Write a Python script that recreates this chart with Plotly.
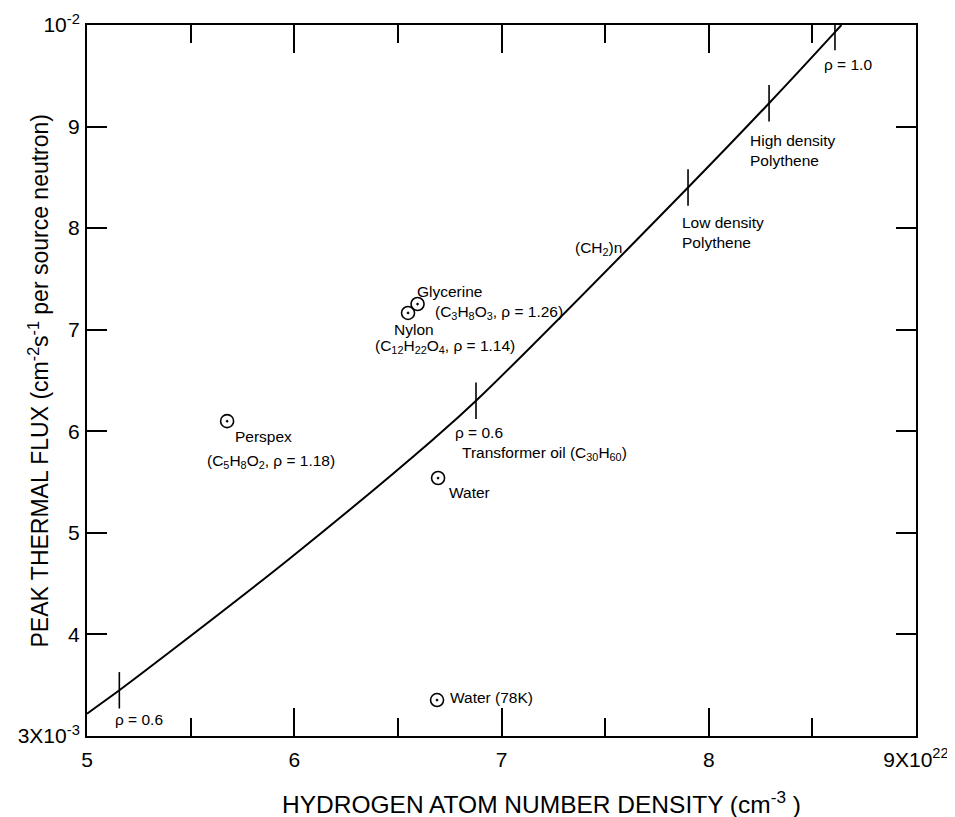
import plotly.graph_objects as go

# ---- data ----
# (CH2)n curve: hydrogen density (x 1e22 cm^-3) vs peak thermal flux (x 1e-3)
curve_x = [5.0, 5.156, 5.35, 5.98, 6.67, 6.877, 7.90, 8.291, 8.609, 8.64]
curve_y = [3.22, 3.45, 3.75, 4.75, 5.92, 6.30, 8.40, 9.23, 9.93, 10.0]

# density marks on the curve
rho_x = [5.156, 6.877, 7.90, 8.291, 8.609]
rho_y = [3.45, 6.30, 8.40, 9.23, 9.93]

# individual materials
sample_names = ["Perspex", "Nylon", "Glycerine", "Water", "Water (78K)"]
sample_x = [5.676, 6.549, 6.595, 6.694, 6.689]
sample_y = [6.10, 7.165, 7.253, 5.54, 3.354]

# axis ticks
x_tickvals = [5, 6, 7, 8, 9]
x_ticktext = ["5", "6", "7", "8", "9X10<sup>22</sup>"]
y_tickvals = [3, 4, 5, 6, 7, 8, 9, 10]
y_ticktext = ["3X10<sup>-3</sup>", "4", "5", "6", "7", "8", "9", "10<sup>-2</sup>"]

FONT = "Arial, Liberation Sans, Helvetica, sans-serif"

fig = go.Figure()
fig.add_trace(go.Scatter(
    x=curve_x, y=curve_y, mode="lines",
    line=dict(color="black", width=2, shape="spline", smoothing=1.0),
    hoverinfo="skip", showlegend=False))
fig.add_trace(go.Scatter(
    x=rho_x, y=rho_y, mode="markers",
    marker=dict(symbol="line-ns", size=26, color="black",
                line=dict(color="black", width=1.6)),
    hoverinfo="skip", showlegend=False))
fig.add_trace(go.Scatter(
    x=sample_x, y=sample_y, mode="markers", text=sample_names,
    marker=dict(symbol="circle-open-dot", size=13, color="black",
                line=dict(color="black", width=1.6)),
    hoverinfo="text", showlegend=False))

# text labels: (text, x, y)
labels = [
    ("Glycerine", 6.583, 7.381),
    ("(C<sub>3</sub>H<sub>8</sub>O<sub>3</sub>, \u03c1 = 1.26)", 6.669, 7.17),
    ("Nylon", 6.472, 7.007),
    ("(C<sub>12</sub>H<sub>22</sub>O<sub>4</sub>, \u03c1 = 1.14)", 6.380, 6.83),
    ("Perspex", 5.704, 5.944),
    ("(C<sub>5</sub>H<sub>8</sub>O<sub>2</sub>, \u03c1 = 1.18)", 5.569, 5.70),
    ("\u03c1 = 0.6", 6.766, 5.993),
    ("Transformer oil (C<sub>30</sub>H<sub>60</sub>)", 6.800, 5.78),
    ("Water", 6.737, 5.402),
    ("Water (78K)", 6.742, 3.384),
    ("(CH<sub>2</sub>)n", 7.345, 7.80),
    ("Low density<br>Polythene", 7.861, 7.962),
    ("High density<br>Polythene", 8.189, 8.769),
    ("\u03c1 = 1.0", 8.546, 9.616),
    ("\u03c1 = 0.6", 5.125, 3.167),
]
for text, lx, ly in labels:
    fig.add_annotation(x=lx, y=ly, xref="x", yref="y", text=text,
                       showarrow=False, xanchor="left", yanchor="middle",
                       align="left",
                       font=dict(family=FONT, size=15.5, color="black"))

# axis titles
fig.add_annotation(
    x=0, y=0.5, xref="paper", yref="paper", xshift=-49,
    text="PEAK THERMAL FLUX (cm<sup>-2</sup>s<sup>-1</sup> per source neutron)",
    textangle=-90, showarrow=False, xanchor="center", yanchor="middle",
    font=dict(family=FONT, size=23, color="black"))
fig.add_annotation(
    x=0.5, y=0, xref="paper", yref="paper", xshift=40, yshift=-66,
    text="HYDROGEN ATOM NUMBER DENSITY (cm<sup>-3</sup> )",
    showarrow=False, xanchor="center", yanchor="middle",
    font=dict(family=FONT, size=24.5, color="black"))

axis_common = dict(
    showgrid=False, zeroline=False, showline=True, linecolor="black",
    linewidth=2, mirror="ticks", ticks="inside", tickcolor="black",
    tickwidth=1.6, tickfont=dict(family=FONT, size=21, color="black"),
)
fig.update_xaxes(
    range=[5, 9], tickmode="array", tickvals=x_tickvals, ticktext=x_ticktext,
    ticklen=28, ticklabelstandoff=4,
    minor=dict(tickmode="linear", tick0=5, dtick=0.5, ticks="inside",
               ticklen=18, tickwidth=1.6, tickcolor="black", showgrid=False),
    **axis_common)
fig.update_yaxes(
    range=[3, 10], tickmode="array", tickvals=y_tickvals, ticktext=y_ticktext,
    ticklen=20, ticklabelstandoff=1, **axis_common)

# the page adds an 8px body margin, so the figure is 8px smaller each way
fig.update_layout(
    width=947, height=809,
    margin=dict(l=79, r=39, t=17, b=81, autoexpand=False),
    plot_bgcolor="white", paper_bgcolor="white",
    font=dict(family=FONT, color="black"),
)

fig.write_html("out.html")
